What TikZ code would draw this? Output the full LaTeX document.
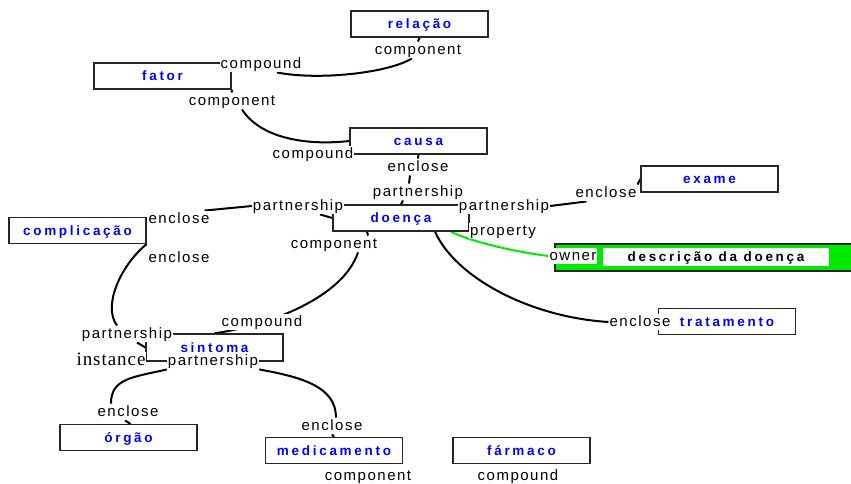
\documentclass[tikz,border=0pt]{standalone}
\usepackage{fontspec}
\setmainfont{Liberation Sans}
\newfontfamily\rolefont[LetterSpace=10]{Liberation Sans}
\newfontfamily\conceptfont[LetterSpace=20]{Liberation Sans}
\newfontfamily\instfont[LetterSpace=5]{Liberation Serif}
\usetikzlibrary{backgrounds}
\definecolor{conceptblue}{RGB}{0,0,255}
\definecolor{ownergreen}{RGB}{0,235,0}

\begin{document}
\begin{tikzpicture}[x=1pt,y=1pt,
    concept/.style={draw=black!85, line width=1.3pt, minimum width=137pt, minimum height=26pt,
        inner sep=0pt, text height=11.5pt, text depth=2pt, text=conceptblue,
        font=\conceptfont\bfseries\fontsize{13.5}{15}\selectfont},
    role/.style={fill=white, inner sep=1pt, text height=12pt, text depth=2.5pt,
        font=\rolefont\fontsize{15}{17}\selectfont},
    link/.style={line width=2pt},
    ownerlink/.style={line width=2pt, draw=ownergreen}]
    \useasboundingbox (0,0) rectangle (851,-483);

    % concepts
    \node[concept] (relacao) at (419.5,-24) {relação};
    \node[concept] (fator) at (162.5,-76) {fator};
    \node[concept] (causa) at (418.5,-141) {causa};
    \node[concept, minimum width=136pt] (doenca) at (401,-218) {doença};
    \node[concept] (exame) at (709.5,-179) {exame};
    \node[concept] (complicacao) at (77.5,-230.5) {complicação};
    \node[concept] (tratamento) at (727,-321.5) {tratamento};
    \node[concept, minimum height=27pt] (sintoma) at (214.5,-347.5) {sintoma};
    \node[concept] (orgao) at (128.5,-437.5) {órgão};
    \node[concept] (medicamento) at (334,-450.5) {medicamento};
    \node[concept] (farmaco) at (521.5,-450.5) {fármaco};
    \node[draw=black!85, line width=1.3pt, fill=ownergreen, minimum width=300pt, minimum height=27pt] (descbar) at (705,-257.5) {};
    \node[concept, draw=none, fill=white, minimum width=226pt, minimum height=18pt, text=black] (descricao) at (716,-257) {descrição da doença};

    % roles
    \node[role] (relComp) at (418,-50) {component};
    \node[role] (fatCpd) at (261,-64) {compound};
    \node[role] (fatComp) at (232,-101) {component};
    \node[role] (cauCpd) at (313,-154) {compound};
    \node[role] (cauEnc) at (418,-167) {enclose};
    \node[role] (cauPart) at (418,-192) {partnership};
    \node[role] (doePartL) at (298,-206) {partnership};
    \node[role] (doePartR) at (504,-206) {partnership};
    \node[role] (doeProp) at (503,-231) {property};
    \node[role] (doeComp) at (334,-244) {component};
    \node[role] (cplEncA) at (179,-219) {enclose};
    \node[role] (cplEncB) at (179,-258) {enclose};
    \node[role] (exaEnc) at (606,-193) {enclose};
    \node[role] (descOwn) at (573,-256) {owner};
    \node[role] (traEnc) at (640,-322) {enclose};
    \node[role] (sinCpd) at (262,-322) {compound};
    \node[role] (sinPartA) at (127,-334) {partnership};
    \node[role, text height=12pt, text depth=4pt, font=\instfont\fontsize{19}{21}\selectfont] (instance) at (111,-361) {instance};
    \node[role] (sinPartB) at (213,-361) {partnership};
    \node[role] (orgEnc) at (128,-412) {enclose};
    \node[role] (medEnc) at (332,-426) {enclose};
    \node[role] (medComp) at (368,-475.5) {component};
    \node[role] (farCpd) at (518,-475.5) {compound};

    \begin{scope}[on background layer]
    \draw[link] (relacao.south) -- (relComp.north);
    \draw[link] ([xshift=16pt]fatCpd.south) .. controls +(40,-8) and +(-25,-15) .. ([xshift=-6pt]relComp.south);
    \draw[link] (fator.south east) -- (fatComp.north);
    \draw[link] ([xshift=10pt]fatComp.south) .. controls +(18,-28) and +(-45,-5) .. (causa.west);
    \draw[link] (causa.south) -- (cauEnc.north);
    \draw[link] ([xshift=-8pt]cauEnc.south) -- ([xshift=-9pt]cauPart.north);
    \draw[link] ([xshift=-15pt]cauPart.south) -- (doenca.north);
    \draw[link] ([xshift=22pt]doePartL.south) -- (doenca.west);
    \draw[link] (doePartL.west) -- ([xshift=-6pt]cplEncA.north east);
    \draw[link] ([xshift=34pt]doeComp.north) -- ([xshift=-34pt]doenca.south);
    \draw[link] ([xshift=24pt]doeComp.south) .. controls +(-15,-45) and +(55,8) .. (sintoma.north);
    \draw[link] (complicacao.south east) .. controls +(-25,-20) and +(-15,20) .. ([xshift=-10pt]sinPartA.north);
    \draw[link] ([xshift=10pt]sinPartA.south) -- (sintoma.west);
    \draw[link] (instance.east) -- (sinPartB.west);
    \draw[link] (sinPartB.south west) .. controls +(-35,-8) and +(0,25) .. ([xshift=-17pt]orgEnc.north);
    \draw[link] ([xshift=-3pt]orgEnc.south) -- ([xshift=2pt]orgao.north);
    \draw[link] (sinPartB.south east) .. controls +(45,-8) and +(0,30) .. ([xshift=4pt]medEnc.north);
    \draw[link] (medEnc.south) -- (medicamento.north);
    \draw[link] ([xshift=34pt]doenca.south) .. controls +(20,-45) and +(-80,5) .. (traEnc.west);
    \draw[link] (doePartR.east) -- ([xshift=12pt]exaEnc.south west);
    \draw[link] (exaEnc.north east) -- (exame.west);
    \draw[ownerlink] ([xshift=50pt]doenca.south) .. controls +(15,-8) and +(-40,5) .. (descOwn.west);
    \end{scope}
\end{tikzpicture}
\end{document}
